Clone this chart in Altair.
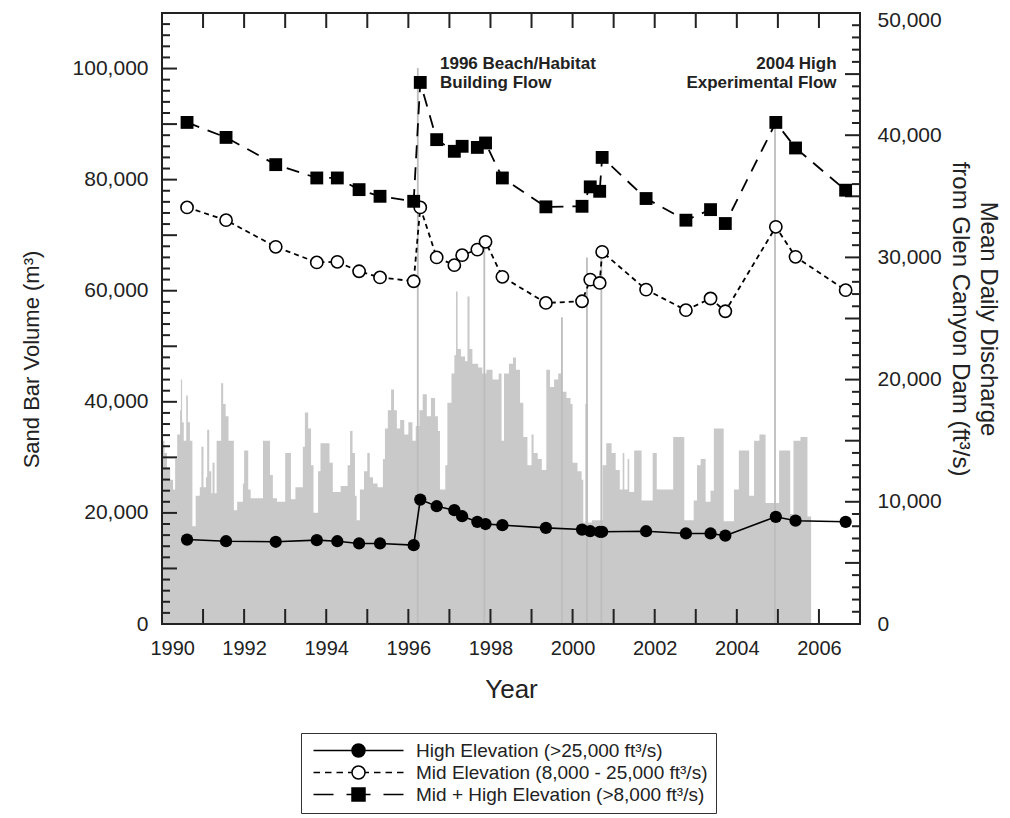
import altair as alt
import pandas as pd

# ---------------- data ----------------
survey_year = [1990.61, 1991.56, 1992.77, 1993.77, 1994.27, 1994.80, 1995.31, 1996.13,
               1996.29, 1996.69, 1997.12, 1997.31, 1997.68, 1997.88, 1998.29, 1999.35,
               2000.23, 2000.43, 2000.66, 2000.72, 2001.79, 2002.76, 2003.36, 2003.72,
               2004.95, 2005.43, 2006.65]
high_vol = [15200, 14900, 14800, 15100, 14900, 14500, 14500, 14200, 22400, 21200, 20500,
            19400, 18400, 18000, 17800, 17300, 17000, 16700, 16600, 16600, 16700, 16300,
            16300, 15900, 19300, 18600, 18400]
mid_vol = [75000, 72700, 67900, 65100, 65200, 63500, 62400, 61700, 75000, 66000, 64600,
           66400, 67400, 68800, 62500, 57800, 58100, 62000, 61400, 67000, 60200, 56500,
           58600, 56300, 71500, 66100, 60100]
midhigh_vol = [90300, 87600, 82700, 80300, 80300, 78200, 77000, 76100, 97500, 87200, 85100,
               86000, 85800, 86600, 80300, 75100, 75200, 78700, 77900, 84000, 76600, 72700,
               74600, 72100, 90300, 85700, 78100]

flow_year = [1990.00, 1990.06, 1990.12, 1990.20, 1990.27, 1990.32, 1990.37, 1990.44, 1990.46,
             1990.49, 1990.53, 1990.59, 1990.63, 1990.68, 1990.74, 1990.82, 1990.92, 1990.96,
             1991.01, 1991.07, 1991.10, 1991.15, 1991.20, 1991.23, 1991.28, 1991.33, 1991.44,
             1991.49, 1991.55, 1991.62, 1991.75, 1991.83, 1991.97, 1992.00, 1992.10, 1992.16,
             1992.46, 1992.63, 1992.70, 1992.80, 1993.00, 1993.14, 1993.25, 1993.43, 1993.48,
             1993.56, 1993.63, 1993.69, 1993.80, 1993.86, 1994.08, 1994.16, 1994.35, 1994.52,
             1994.58, 1994.64, 1994.70, 1994.74, 1994.82, 1994.92, 1995.00, 1995.06, 1995.14,
             1995.25, 1995.38, 1995.43, 1995.50, 1995.58, 1995.65, 1995.72, 1995.80, 1995.90,
             1996.00, 1996.10, 1996.18, 1996.27, 1996.35, 1996.45, 1996.55, 1996.65, 1996.72,
             1996.77, 1996.90, 1996.95, 1997.05, 1997.12, 1997.16, 1997.20, 1997.28, 1997.38,
             1997.44, 1997.49, 1997.56, 1997.70, 1997.80, 1997.90, 1998.05, 1998.20, 1998.27,
             1998.33, 1998.45, 1998.55, 1998.62, 1998.72, 1998.80, 1998.90, 1999.00, 1999.05,
             1999.15, 1999.25, 1999.36, 1999.45, 1999.55, 1999.65, 1999.75, 1999.85, 1999.95,
             2000.00, 2000.12, 2000.22, 2000.26, 2000.31, 2000.37, 2000.47, 2000.73, 2000.82,
             2000.95, 2001.05, 2001.15, 2001.22, 2001.26, 2001.34, 2001.38, 2001.50, 2001.68,
             2001.95, 2002.05, 2002.45, 2002.72, 2002.95, 2003.03, 2003.12, 2003.24, 2003.36,
             2003.44, 2003.68, 2003.93, 2004.05, 2004.30, 2004.42, 2004.55, 2004.70, 2005.03,
             2005.30, 2005.38, 2005.55, 2005.72, 2005.81]
flow_cfs = [15000, 14000, 12800, 11800, 11000, 13500, 15500, 17500, 20000,
            16500, 15000, 18700, 16500, 15000, 8000, 10500, 11200, 14500,
            11200, 12000, 15900, 12500, 10700, 13200, 10700, 15000, 19700,
            18000, 17000, 15000, 9300, 10000, 11500, 14200, 11000, 10300,
            15000, 12200, 10300, 10000, 14000, 10200, 11200, 14500, 17300,
            16000, 13000, 9100, 12500, 14800, 13200, 10800, 11300, 13000,
            15800, 14000, 10500, 8500, 11000, 12500, 14000, 12000, 11500,
            11200, 13500, 16000, 17500, 19200, 17500, 16000, 16700, 15500,
            16500, 15000, 16200, 17500, 18800, 17000, 18500, 17000, 15800,
            11000, 13000, 18100, 20500, 22000, 27200, 22500, 21900, 21500,
            26800, 22500, 21300, 21000, 20500, 20800, 20000, 20500, 15000,
            20500, 21300, 21800, 20800, 18100, 15300, 13000, 15500, 14000,
            13500, 12600, 20800, 19400, 20000, 20500, 19000, 18500, 18000,
            13200, 12500, 11800, 8300, 18000, 8300, 8500, 13000, 14800,
            14000, 12600, 11000, 14000, 11000, 13500, 10800, 14200, 10100,
            14000, 11000, 15300, 8500, 10100, 13000, 13500, 10000, 10900,
            16000, 8400, 11000, 14200, 10500, 15000, 15500, 9900, 14200,
            9000, 15000, 15300, 8800, 8800]

spike_year = [1996.23, 1997.85, 1999.74, 2000.35, 2000.70, 2004.93]
spike_cfs = [45500, 30800, 25100, 30000, 31000, 41500]

x_labels = [1990, 1992, 1994, 1996, 1998, 2000, 2002, 2004, 2006]
left_labels = [0, 20000, 40000, 60000, 80000, 100000]
right_labels = [0, 10000, 20000, 30000, 40000, 50000]
year_ticks = list(range(1991, 2007))
left_major_ticks = [v for v in range(10000, 110000, 10000)]
left_minor_ticks = [v for v in range(2000, 110000, 2000) if v % 10000 != 0]
right_major_ticks = [v for v in range(5000, 50000, 5000)]
right_minor_ticks = [v for v in range(1000, 50000, 1000) if v % 5000 != 0]

series_names = ["High Elevation (>25,000 ft\u00b3/s)",
                "Mid Elevation (8,000 - 25,000 ft\u00b3/s)",
                "Mid + High Elevation (>8,000 ft\u00b3/s)"]

annot_text = ["1996 Beach/Habitat\nBuilding Flow", "2004 High\nExperimental Flow"]
annot_x = [1996.77, 2006.43]
annot_y = [102200, 102200]

# ---------------- layout ----------------
W, H = 698, 611
FONT = "Liberation Sans, Arial, Helvetica, sans-serif"
INK = "#222222"

xs = alt.Scale(domain=[1990, 2007], nice=False, zero=False)
ysL = alt.Scale(domain=[0, 110000], nice=False, zero=False)
ysR = alt.Scale(domain=[0, 50000], nice=False, zero=False)

x_axis = alt.Axis(values=x_labels, format="d", title="Year", labelFontSize=20,
                  titleFontSize=26, titleFontWeight="normal", ticks=False,
                  domain=False, grid=False, labelPadding=14, titlePadding=18,
                  labelFlush=True, labelFlushOffset=12)
left_axis = alt.Axis(orient="left", values=left_labels, format=",.0f",
                     title="Sand Bar Volume (m\u00b3)",
                     labelFontSize=21, titleFontSize=22, titleFontWeight="normal", ticks=False,
                     domain=False, grid=False, labelPadding=14, titlePadding=29, titleY=346)
right_axis = alt.Axis(orient="right", values=right_labels, format=",.0f",
                      title=["Mean Daily Discharge", "from Glen Canyon Dam (ft\u00b3/s)"],
                      labelFontSize=21, titleFontSize=24, titleLineHeight=28,
                      titleFontWeight="normal", ticks=False, domain=False,
                      grid=False, labelPadding=17, titlePadding=6,
                      labelOffset={"condition": {"test": "datum.value >= 50000", "value": 7},
                                   "value": 0})

surveys = pd.DataFrame({"year": survey_year, "high": high_vol, "mid": mid_vol,
                        "midhigh": midhigh_vol})
flow = pd.DataFrame({"year": flow_year, "cfs": flow_cfs})
spikes = pd.DataFrame({"year": spike_year, "cfs": spike_cfs})

XA = alt.X("year:Q", scale=xs, axis=x_axis)

# ---------------- discharge (right scale) ----------------
area = alt.Chart(flow).mark_area(interpolate="step-after", color="#c9c9c9").encode(
    x=XA, y=alt.Y("cfs:Q", scale=ysR, axis=right_axis))
spike = alt.Chart(spikes).mark_rule(color="#bdbdbd", strokeWidth=1.8).encode(
    x=XA, y=alt.Y("cfs:Q", scale=ysR, axis=None), y2=alt.datum(0))
rt_major = alt.Chart(pd.DataFrame({"v": right_major_ticks})).mark_rule(
    color=INK, strokeWidth=2).encode(
    y=alt.Y("v:Q", scale=ysR, axis=None), x=alt.value(W - 15), x2=alt.value(W))
rt_minor = alt.Chart(pd.DataFrame({"v": right_minor_ticks})).mark_rule(
    color=INK, strokeWidth=2).encode(
    y=alt.Y("v:Q", scale=ysR, axis=None), x=alt.value(W - 8), x2=alt.value(W))

# ---------------- sand volume (left scale) ----------------
base = alt.Chart(surveys)
high_line = base.mark_line(color="black", strokeWidth=1.6).encode(
    x=XA, y=alt.Y("high:Q", scale=ysL, axis=left_axis))
mid_line = base.mark_line(color="black", strokeWidth=1.8, strokeDash=[5, 4]).encode(
    x=XA, y=alt.Y("mid:Q", scale=ysL, axis=None))
mh_line = base.mark_line(color="black", strokeWidth=1.8, strokeDash=[13, 9]).encode(
    x=XA, y=alt.Y("midhigh:Q", scale=ysL, axis=None))
high_pts = base.mark_point(shape="circle", filled=True, color="black", size=150, opacity=1).encode(
    x=XA, y=alt.Y("high:Q", scale=ysL, axis=None))
mid_pts = base.mark_point(shape="circle", filled=True, fill="white", stroke="black",
                          strokeWidth=1.6, size=150, opacity=1).encode(
    x=XA, y=alt.Y("mid:Q", scale=ysL, axis=None))
mh_pts = base.mark_point(shape="square", filled=True, color="black", size=165, opacity=1).encode(
    x=XA, y=alt.Y("midhigh:Q", scale=ysL, axis=None))

lt_major = alt.Chart(pd.DataFrame({"v": left_major_ticks})).mark_rule(
    color=INK, strokeWidth=2).encode(
    y=alt.Y("v:Q", scale=ysL, axis=None), x=alt.value(0), x2=alt.value(15))
lt_minor = alt.Chart(pd.DataFrame({"v": left_minor_ticks})).mark_rule(
    color=INK, strokeWidth=2).encode(
    y=alt.Y("v:Q", scale=ysL, axis=None), x=alt.value(0), x2=alt.value(8))
yt = pd.DataFrame({"year": year_ticks})
top_ticks = alt.Chart(yt).mark_rule(color=INK, strokeWidth=2).encode(
    x=XA, y=alt.value(0), y2=alt.value(15))
bot_ticks = alt.Chart(yt).mark_rule(color=INK, strokeWidth=2).encode(
    x=XA, y=alt.value(H - 15), y2=alt.value(H))
frame = alt.Chart(pd.DataFrame({"k": [0]})).mark_rect(
    filled=False, stroke=INK, strokeWidth=2).encode(
    x=alt.value(0), x2=alt.value(W), y=alt.value(0), y2=alt.value(H))

ann_df = pd.DataFrame({"year": annot_x, "vol": annot_y, "label": annot_text})
ann_left = alt.Chart(ann_df.iloc[[0]]).mark_text(
    align="left", baseline="top", fontSize=17, fontWeight="bold", lineBreak="\n",
    lineHeight=19, color=INK, font=FONT).encode(
    x=XA, y=alt.Y("vol:Q", scale=ysL, axis=None), text="label:N")
ann_right = alt.Chart(ann_df.iloc[[1]]).mark_text(
    align="right", baseline="top", fontSize=17, fontWeight="bold", lineBreak="\n",
    lineHeight=19, color=INK, font=FONT).encode(
    x=XA, y=alt.Y("vol:Q", scale=ysL, axis=None), text="label:N")

# legend: custom symbols (line + marker) through the library's legend
p_high = "M -1 0 L 6.7 0 M 9.3 0 L 17 0 M 6.7 0 A 1.3 1.3 0 1 1 9.3 0 A 1.3 1.3 0 1 1 6.7 0 Z"
p_mid = ("M -1 0 L 0.3 0 M 1.3 0 L 2.6 0 M 3.6 0 L 4.9 0 M 5.9 0 L 6.7 0 "
         "M 9.3 0 L 10.1 0 M 11.1 0 L 12.4 0 M 13.4 0 L 14.7 0 M 15.7 0 L 17 0 "
         "M 6.7 0 A 1.3 1.3 0 1 1 9.3 0 A 1.3 1.3 0 1 1 6.7 0 Z")
p_mh = "M -1 0 L 3 0 M 5.6 0 L 10.4 0 M 13 0 L 17 0 M 6.7 -1.3 L 9.3 -1.3 L 9.3 1.3 L 6.7 1.3 Z"

leg_obj = alt.Legend(title=None, orient="none", legendX=139, legendY=720, direction="vertical",
                     strokeColor="#333333", fillColor="white", padding=8, symbolSize=100,
                     symbolStrokeWidth=1.5, symbolOpacity=1,
                     labelFontSize=19, labelFont=FONT, labelColor=INK, labelOffset=88,
                     labelLimit=600, rowPadding=2)
leg_df = pd.DataFrame({"series": series_names, "year": [1990.0] * 3, "vol": [-50000] * 3})
leg_layer = alt.Chart(leg_df).mark_point(filled=True, size=100, strokeWidth=1.5,
                                         clip=True, opacity=1).encode(
    x=XA, y=alt.Y("vol:Q", scale=ysL, axis=None),
    shape=alt.Shape("series:N", scale=alt.Scale(domain=series_names, range=[p_high, p_mid, p_mh]),
                    legend=leg_obj),
    fill=alt.Fill("series:N", scale=alt.Scale(domain=series_names, range=["black", "white", "black"]),
                  legend=leg_obj),
    stroke=alt.Stroke("series:N", scale=alt.Scale(domain=series_names, range=["black", "black", "black"]),
                      legend=leg_obj),
)

chart = alt.layer(
    area, spike, rt_major, rt_minor,
    high_line, mid_line, mh_line, high_pts, mid_pts, mh_pts,
    lt_major, lt_minor, top_ticks, bot_ticks, frame,
    ann_left, ann_right, leg_layer,
).resolve_scale(y="independent").properties(
    width=W, height=H,
    padding={"left": 154, "top": 5, "right": 142, "bottom": 194},
    autosize=alt.AutoSizeParams(type="none"),
).configure_view(stroke=None).configure_axis(
    labelFont=FONT, titleFont=FONT, labelColor=INK, titleColor=INK
).configure_text(font=FONT)

chart.save("out.html", embed_options={"renderer": "svg", "actions": False})
